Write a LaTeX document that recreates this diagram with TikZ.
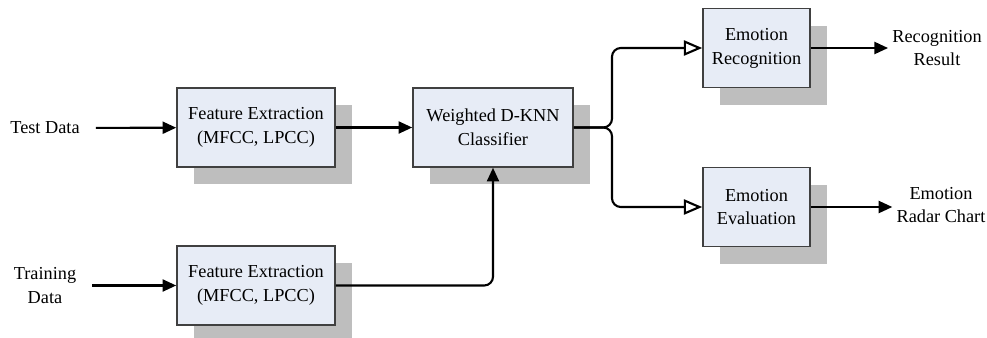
\documentclass[tikz,border=0pt]{standalone}
\usepackage{fontspec}
\setmainfont{Liberation Serif}
\usetikzlibrary{arrows.meta,positioning,calc,shadows}

\definecolor{boxfill}{RGB}{231,236,246}
\definecolor{boxline}{RGB}{64,64,64}
\definecolor{shadegray}{RGB}{190,190,190}

\begin{document}
\begin{tikzpicture}[
  x=0.025cm, y=-0.025cm,
  font=\fontsize{13}{17}\selectfont,
  block/.style={rectangle,draw=boxline,line width=1.1pt,fill=boxfill,align=center,
    minimum height=1.975cm,
    drop shadow={shadow xshift=0.43cm,shadow yshift=-0.43cm,fill=shadegray,opacity=1}},
  inlab/.style={align=center,inner xsep=0.4cm},
  outlab/.style={align=center,inner xsep=0.1cm},
  flow/.style={-{Triangle[length=0.34cm,width=0.3cm]},line width=1.5pt},
  branch/.style={-{Triangle[open,length=0.46cm,width=0.38cm,fill=white]},line width=1.5pt,rounded corners=0.22cm}
]
  \useasboundingbox (0,0) rectangle (987,337);

  \node[inlab] (test) at (45,128) {Test Data};
  \node[inlab] (train) at (45,285.5) {Training\\Data};

  \node[block,minimum width=3.95cm] (fe1) at (256,127.5) {Feature Extraction\\(MFCC, LPCC)};
  \node[block,minimum width=3.95cm] (fe2) at (256,285.5) {Feature Extraction\\(MFCC, LPCC)};
  \node[block,minimum width=4cm] (wkc) at (493,127.5) {Weighted D-KNN\\Classifier};

  \node[block,minimum width=2.675cm] (er) at (756.5,48) {Emotion\\Recognition};
  \node[block,minimum width=2.675cm] (ee) at (756.5,207) {Emotion\\Evaluation};

  \node[outlab] (rr) at (937,48) {Recognition\\Result};
  \node[outlab] (rc) at (941,205) {Emotion\\Radar Chart};

  \coordinate (split) at (612,127.5);

  \draw[flow] (test) -- (fe1);
  \draw[flow] (train) -- (fe2);
  \draw[flow] (fe1) -- (wkc);
  \draw[flow,rounded corners=0.22cm] (fe2.east) -| (wkc.south);

  \draw[branch] (wkc.east) -- (split) |- (er.west);
  \draw[branch] (wkc.east) -- (split) |- (ee.west);

  \draw[flow] (er.east) -- (rr.west);
  \draw[flow] (ee.east) -- (ee.east -| rc.west);
\end{tikzpicture}
\end{document}
